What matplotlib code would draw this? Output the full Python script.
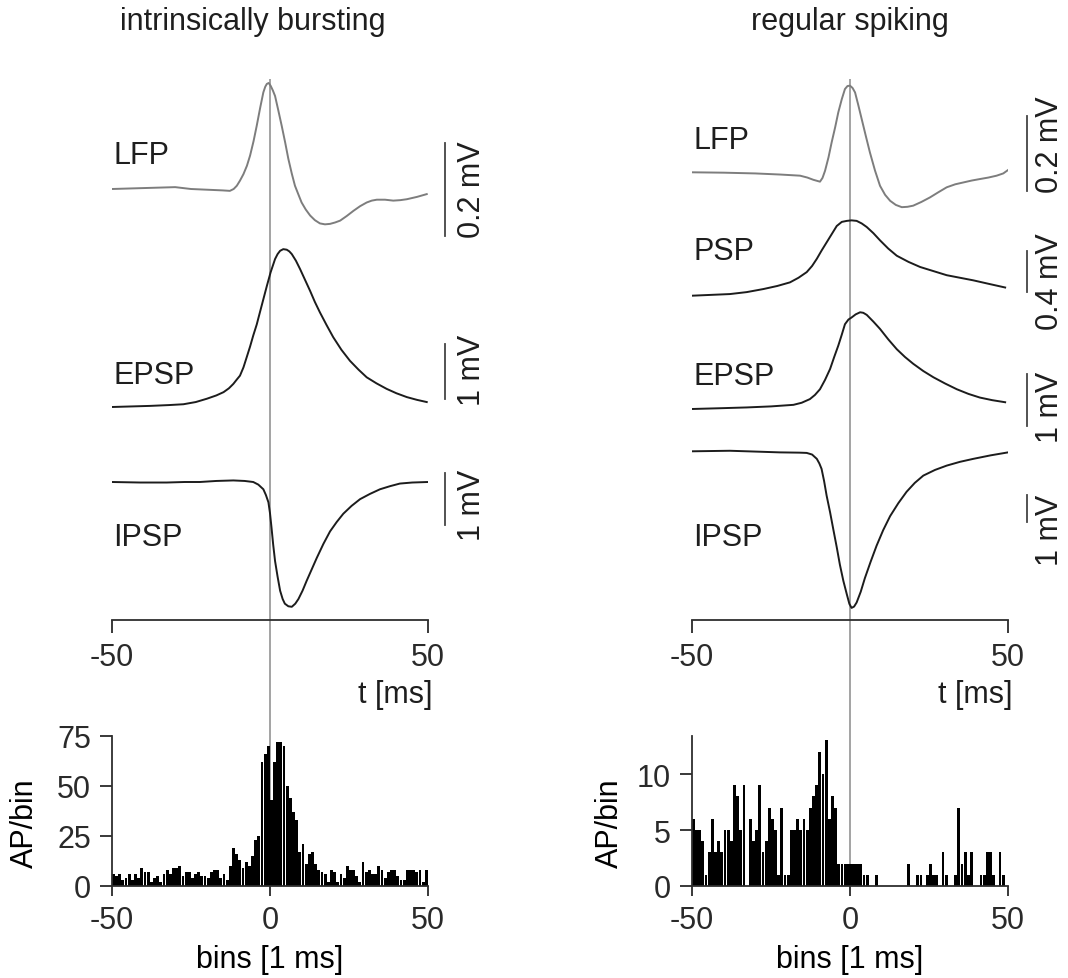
import numpy as np
import matplotlib
matplotlib.use("Agg")
import matplotlib.pyplot as plt

plt.rcParams['font.family'] = ['Liberation Sans', 'DejaVu Sans']
plt.rcParams['axes.unicode_minus'] = False
plt.rcParams['font.size'] = 22
plt.rcParams['text.color'] = '#1e1e1e'
plt.rcParams['xtick.color'] = '#2a2a2a'
plt.rcParams['ytick.color'] = '#2a2a2a'

# ---- data ----
# intrinsically bursting, traces: time [ms] and amplitude [mV]
ib_lfp_t = [-50, -40, -30, -25, -15, -12.7, -11.5, -10.5, -9.5, -8.4, -7.3, -6.3, -5.2, -4.2, -3.1,
            -2.1, -1.5, -1.0, -0.4, 0.2, 0.9, 1.6, 2.6, 3.7, 4.8, 5.8, 6.9, 7.9, 9.0, 10.0, 11.3,
            12.7, 14.2, 15.8, 17.4, 19.0, 20.6, 22.2, 24.3, 26.4, 28.5, 30.6, 32.2, 33.8, 36.4,
            39.0, 41.2, 43.3, 46.5, 49.6]
ib_lfp_mv = [0, 0.002, 0.004, 0.0, -0.003, -0.004, 0.0, 0.007, 0.018, 0.032, 0.05, 0.072, 0.103,
             0.136, 0.175, 0.208, 0.22, 0.226, 0.228, 0.222, 0.212, 0.2, 0.17, 0.136, 0.1, 0.065,
             0.033, 0.007, -0.012, -0.029, -0.044, -0.057, -0.067, -0.074, -0.076, -0.075, -0.072,
             -0.068, -0.058, -0.047, -0.037, -0.029, -0.025, -0.023, -0.023, -0.025, -0.024,
             -0.022, -0.017, -0.011]

ib_epsp_t = [-50, -44, -38, -32, -27.4, -23.5, -20, -17, -14.7, -13, -11.6, -10.5, -9.5, -8.4,
             -7.4, -6.3, -5.3, -4.2, -3.2, -2.1, -1.0, 0.2, 1.6, 2.4, 3.2, 4.2, 5.3, 6.1, 6.9, 8.2,
             9.5, 11.1, 12.7, 14.2, 15.8, 17.9, 20.0, 22.6, 25.3, 28, 30.6, 33.7, 36.9, 40, 43.3,
             46.5, 49.6]
ib_epsp_mv = [0, 0.01, 0.02, 0.035, 0.05, 0.09, 0.15, 0.21, 0.27, 0.34, 0.42, 0.5, 0.57, 0.72,
              0.9, 1.1, 1.3, 1.5, 1.72, 1.96, 2.2, 2.45, 2.69, 2.78, 2.84, 2.87, 2.86, 2.83, 2.78,
              2.66, 2.51, 2.31, 2.11, 1.91, 1.72, 1.49, 1.27, 1.04, 0.84, 0.68, 0.54, 0.43, 0.33,
              0.25, 0.18, 0.13, 0.09]

ib_ipsp_t = [-50, -41, -32.7, -27, -22.2, -17, -11.6, -8, -5.3, -3.7, -2.1, -1.3, -0.5, 0, 0.5,
             1.0, 1.6, 2.4, 3.2, 4.0, 4.7, 5.8, 6.9, 8.0, 9.0, 10.3, 11.6, 13.2, 14.8, 16.9, 19.0,
             21.1, 23.2, 25.8, 28.5, 31.6, 34.8, 38, 41.1, 45, 50]
ib_ipsp_mv = [0, -0.01, -0.01, 0.0, 0, 0.02, 0.03, 0.02, 0, -0.05, -0.14, -0.25, -0.39, -0.6,
              -0.89, -1.2, -1.52, -1.82, -2.09, -2.25, -2.34, -2.39, -2.40, -2.34, -2.25, -2.09,
              -1.9, -1.68, -1.46, -1.19, -0.95, -0.77, -0.61, -0.46, -0.33, -0.23, -0.14, -0.08,
              -0.03, -0.01, 0]

# regular spiking, traces
rs_lfp_t = [-50, -40, -30, -22, -15.8, -13.5, -11.6, -9.5, -8.7, -7.9, -6.8, -5.8, -4.7, -3.7,
            -2.6, -1.6, -0.8, 0.0, 0.8, 1.6, 2.6, 3.7, 5.0, 6.3, 7.9, 9.5, 11.1, 12.7, 14.5, 16.4,
            18.2, 20.0, 22.6, 25.3, 28, 30.6, 33.3, 35.9, 38.5, 41.1, 43.8, 46.4, 48.5, 50]
rs_lfp_mv = [0, -0.001, -0.003, -0.006, -0.009, -0.014, -0.02, -0.025, -0.015, 0.004, 0.04, 0.08,
             0.12, 0.16, 0.195, 0.222, 0.23, 0.231, 0.225, 0.213, 0.18, 0.142, 0.097, 0.053,
             0.005, -0.036, -0.06, -0.076, -0.087, -0.093, -0.092, -0.089, -0.079, -0.067,
             -0.053, -0.04, -0.032, -0.027, -0.022, -0.018, -0.014, -0.009, -0.003, 0.006]

rs_psp_t = [-50, -44, -38, -32.7, -27.4, -23, -19.0, -16.3, -13.7, -12, -10.5, -9, -7.4, -5.8,
            -4.2, -2.6, -1.0, 0.5, 2.1, 3.7, 5.3, 7.4, 9.5, 12.1, 14.8, 18.5, 22.2, 26.4, 30.6,
            34.8, 39.0, 44, 49.1]
rs_psp_mv = [0, 0.008, 0.016, 0.035, 0.065, 0.095, 0.13, 0.175, 0.23, 0.29, 0.36, 0.44, 0.52,
             0.6, 0.68, 0.72, 0.73, 0.735, 0.73, 0.705, 0.67, 0.61, 0.54, 0.46, 0.39, 0.33, 0.28,
             0.24, 0.2, 0.175, 0.15, 0.115, 0.08]

rs_epsp_t = [-50, -41, -32.7, -25, -17.9, -15.3, -12.7, -11.1, -9.5, -7.9, -6.3, -5.0, -3.7,
             -2.6, -1.6, -0.5, 0.5, 1.8, 3.2, 4.2, 5.3, 7.4, 9.5, 12.1, 14.8, 17.4, 20.0, 23.2,
             26.4, 30.1, 33.8, 37.5, 41.1, 45, 49.1]
rs_epsp_mv = [0, 0.015, 0.03, 0.05, 0.08, 0.12, 0.19, 0.27, 0.38, 0.56, 0.77, 1.0, 1.22, 1.43,
              1.63, 1.72, 1.76, 1.82, 1.86, 1.85, 1.81, 1.68, 1.54, 1.34, 1.15, 1.0, 0.87, 0.73,
              0.61, 0.49, 0.38, 0.29, 0.22, 0.17, 0.13]

rs_ipsp_t = [-50, -38, -30, -22.2, -16, -13.7, -12, -10.5, -9.7, -9.0, -8.2, -7.4, -6.3, -5.3,
             -4.2, -3.2, -2.1, -1.0, -0.2, 0.5, 1.3, 2.1, 3.4, 4.7, 6.5, 8.4, 10.5, 12.7, 15.3,
             17.9, 20.5, 23.2, 26.9, 30.6, 34.8, 39.0, 44.5, 50]
rs_ipsp_mv = [0, 0.02, -0.01, -0.04, -0.05, -0.06, -0.12, -0.28, -0.45, -0.65, -1.1, -1.64, -2.26,
              -2.88, -3.55, -4.2, -4.8, -5.3, -5.65, -5.8, -5.75, -5.6, -5.2, -4.7, -4.1, -3.5,
              -2.92, -2.4, -1.92, -1.5, -1.17, -0.9, -0.69, -0.53, -0.39, -0.28, -0.15, -0.04]

# histograms, 1 ms bins from -50 to 49
bins = np.arange(-50, 50)
ib_counts = [6, 5, 6, 3, 4, 6, 3, 6, 4,
             9, 7, 7, 2, 4, 5, 2, 6, 8, 6, 9, 9, 10, 5, 7, 7, 4, 6, 7, 5, 5, 4, 7, 8, 8, 4, 6,
             3, 10, 19, 16, 13, 9, 12, 10, 15, 23, 25, 62, 66, 70,
             43, 62, 72, 72, 70, 50,
             44, 37, 33, 17, 21, 11, 16, 17, 11, 8, 7, 6, 2, 8, 7, 2, 6, 4, 10, 8, 8, 5, 2, 12, 7,
             8, 6, 6, 10, 8, 4, 7, 8, 8, 5, 3, 3, 8, 8, 8, 7, 8, 2, 8]
rs_counts = [6, 5, 5, 4, 1, 3, 6, 3, 4, 3, 5, 5, 4, 9, 8, 5, 9, 0, 6, 4,
             5, 9, 3, 4, 7, 6, 5, 1, 7, 1, 1, 5, 5, 6, 5, 6, 5, 7, 8, 9,
             12, 10, 13, 6, 8, 7, 2, 2, 2, 2,
             2, 2, 2, 2, 1, 1, 0, 0, 1, 0, 0, 0, 0, 0, 0, 0, 0, 0, 2, 0,
             0, 1, 1, 0, 1, 2, 1, 1, 0, 3, 1, 0, 0, 1, 7, 2, 3, 1, 3, 0,
             0, 1, 1, 3, 3, 1, 0, 3, 1, 0]

# ---- layout in pixels ----
W, H = 1068, 979
fig = plt.figure(figsize=(W / 100, H / 100), dpi=100)


def rect(x0, y0, x1, y1):
    return [x0 / W, 1 - y1 / H, (x1 - x0) / W, (y1 - y0) / H]


def fx(px):
    return px / W


def fy(py):
    return 1 - py / H


DARK = '#1c1c1c'
GREY = '#7d7d7d'
AX = '#2e2e2e'


def draw_trace(x0, x1, t, v, base, gain, color, label, label_y, bar_low, bar_len, bar_px,
               bar_text, text_x, text_y):
    ax = fig.add_axes(rect(x0, 60, x1, 621))
    ax.set_xlim(-50, 50)
    ax.set_ylim((base - 621) / gain, (base - 60) / gain)
    ax.axis('off')
    ax.plot(t, v, color=color, lw=1.4, solid_joinstyle='round')
    bx = -50 + (bar_px - x0) * 100 / (x1 - x0)
    ax.plot([bx, bx], [bar_low, bar_low + bar_len], color='#444444', lw=1.3, clip_on=False)
    fig.text(fx(x0 + 1), fy(label_y), label, ha='left', va='center')
    fig.text(fx(text_x), fy(text_y), bar_text, ha='center', va='center', rotation=90)


def time_axis(x0, x1):
    ax = fig.add_axes(rect(x0, 600, x1, 621))
    ax.patch.set_alpha(0)
    for s in ['top', 'left', 'right']:
        ax.spines[s].set_visible(False)
    ax.spines['bottom'].set_color(AX)
    ax.spines['bottom'].set_linewidth(1.3)
    ax.set_xlim(-50, 50)
    ax.set_yticks([])
    ax.set_xticks([-50, 50])
    ax.tick_params(axis='x', length=9, width=1.3, pad=7, labelsize=22)
    fig.text(fx(x1 + 4), fy(695), 't [ms]', ha='right', va='center')


def zero_line(x0, x1):
    ax = fig.add_axes(rect(x0, 80, x1, 887))
    ax.set_zorder(0)
    ax.set_xlim(-50, 50)
    ax.axis('off')
    ax.axvline(0, color='#8a8a8a', lw=1.1)


def draw_hist(x0, x1, counts, ymax, yticks, ylab_x):
    ax = fig.add_axes(rect(x0, 737, x1, 887))
    ax.set_zorder(2)
    ax.patch.set_alpha(0)
    ax.bar(bins, counts, width=0.9, align='edge', color='black', linewidth=0)
    ax.set_xlim(-50, 50)
    ax.set_ylim(0, ymax)
    ax.spines['top'].set_visible(False)
    ax.spines['right'].set_visible(False)
    for s in ['left', 'bottom']:
        ax.spines[s].set_color(AX)
        ax.spines[s].set_linewidth(1.3)
    ax.set_xticks([-50, 0, 50])
    ax.set_yticks(yticks)
    ax.tick_params(axis='x', length=7, width=1.3, pad=7, labelsize=22)
    ax.tick_params(axis='y', length=9, width=1.3, pad=6, labelsize=22)
    ax.set_xlabel('bins [1 ms]')
    ax.xaxis.label.set_va('center')
    ax.xaxis.set_label_coords(0.5, (887 - 960) / 150)
    ax.set_ylabel('AP/bin')
    ax.yaxis.label.set_va('center')
    ax.yaxis.set_label_coords((ylab_x - x0) / (x1 - x0), (887 - 823) / 150)


# left column: intrinsically bursting
L0, L1 = 112, 428
zero_line(L0, L1)
draw_trace(L0, L1, ib_lfp_t, ib_lfp_mv, 190, 465, GREY, 'LFP', 156, -0.1, 0.2, 445, '0.2 mV', 472, 190)
draw_trace(L0, L1, ib_epsp_t, ib_epsp_mv, 408, 55, DARK, 'EPSP', 376, 0.15, 1, 445, '1 mV', 472, 370)
draw_trace(L0, L1, ib_ipsp_t, ib_ipsp_mv, 483, 52, DARK, 'IPSP', 538, -0.83, 1, 445, '1 mV', 472, 505)
time_axis(L0, L1)
draw_hist(L0, L1, ib_counts, 75, [0, 25, 50, 75], 25)
fig.text(fx(253), fy(22), 'intrinsically bursting', ha='center', va='center')

# right column: regular spiking
R0, R1 = 692, 1008
zero_line(R0, R1)
draw_trace(R0, R1, rs_lfp_t, rs_lfp_mv, 173.3, 375, GREY, 'LFP', 141, -0.05, 0.2, 1027, '0.2 mV', 1050, 145)
draw_trace(R0, R1, rs_psp_t, rs_psp_mv, 296.7, 102.5, DARK, 'PSP', 252, 0.04, 0.4, 1027, '0.4 mV', 1050, 282)
draw_trace(R0, R1, rs_epsp_t, rs_epsp_mv, 410, 52, DARK, 'EPSP', 377, -0.33, 1, 1027, '1 mV', 1050, 407)
draw_trace(R0, R1, rs_ipsp_t, rs_ipsp_mv, 452.3, 27, DARK, 'IPSP', 538, -2.62, 1, 1027, '1 mV', 1050, 530)
time_axis(R0, R1)
draw_hist(R0, R1, rs_counts, 13.4, [0, 5, 10], 610)
fig.text(fx(850), fy(22), 'regular spiking', ha='center', va='center')

fig.savefig('out.png', dpi=100)
